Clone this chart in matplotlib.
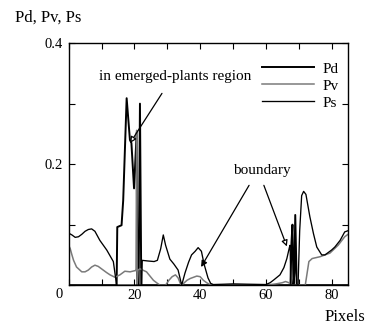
import numpy as np
import matplotlib
matplotlib.use("Agg")
import matplotlib.pyplot as plt
from matplotlib.ticker import FixedLocator, FixedFormatter, MultipleLocator

plt.rcParams['font.family'] = ['Liberation Serif', 'DejaVu Serif']

# --- values ---
pd_x = [0, 14.6, 14.8, 16.1, 16.6, 17.65, 18.65, 19.1, 19.9, 20.7, 20.9, 21.3, 21.7, 22.1,
        67.5, 67.8, 68.1, 68.4, 68.7, 68.95, 69.4, 85]
pd_y = [0, 0, 0.096, 0.099, 0.14, 0.309, 0.24, 0.235, 0.16, 0.252, 0.0, 0.0, 0.30, 0.0,
        0.0, 0.07, 0.10, 0.0, 0.02, 0.116, 0.0, 0]

pv_x = [0, 0.5, 1, 1.5, 2.4, 3, 4, 5, 6, 7, 8, 9, 10.5, 11.5, 12.6, 14.1, 15.6, 17.1, 18.7,
        20.2, 20.5, 20.7, 20.85, 21.1, 21.7, 23.7, 25.8, 27, 27.8, 29.5, 30.5, 31.5, 32.5,
        33.3, 34.2, 35, 36, 37, 38, 39, 40, 41, 42, 43, 44, 50, 60, 63, 65, 66, 67, 68, 72,
        73.1, 74.1, 76.5, 79.5, 82, 84, 85]
pv_y = [0.066, 0.06, 0.05, 0.041, 0.03, 0.027, 0.022, 0.022, 0.025, 0.03, 0.033, 0.031,
        0.025, 0.021, 0.017, 0.013, 0.017, 0.023, 0.022, 0.024, 0.024, 0.256, 0.0, 0.025,
        0.027, 0.022, 0.008, 0.003, 0.0, 0.0, 0.008, 0.014, 0.017, 0.012, 0.0, 0.003, 0.008,
        0.011, 0.013, 0.015, 0.014, 0.008, 0.004, 0.001, 0.0, 0.001, 0.0, 0.002, 0.004,
        0.006, 0.004, 0.0, 0.0, 0.039, 0.044, 0.047, 0.053, 0.066, 0.08, 0.084]

ps_x = [0, 1, 2, 3, 4, 5, 6, 7, 8, 9.5, 11.6, 13.6, 14.6, 22.2, 22.4, 24, 26, 27, 28, 28.8,
        29.5, 30.8, 32, 33.3, 34.4, 35.4, 36.5, 37.4, 38.5, 39.4, 40.4, 41.2, 42.4, 43.2, 44,
        50, 60, 61.3, 62.5, 64.3, 65.5, 66.4, 67.2, 67.4, 67.6, 69.8, 70.3, 70.9, 71.5, 72.2,
        73.4, 74.5, 75.5, 77, 78, 80, 81, 82.6, 84, 85]
ps_y = [0.086, 0.083, 0.079, 0.08, 0.084, 0.089, 0.092, 0.093, 0.089, 0.074, 0.058, 0.039,
        0.0, 0.0, 0.041, 0.04, 0.039, 0.041, 0.06, 0.083, 0.066, 0.043, 0.035, 0.025, 0.0,
        0.02, 0.038, 0.05, 0.056, 0.062, 0.056, 0.035, 0.012, 0.003, 0.001, 0.002, 0.001,
        0.004, 0.009, 0.017, 0.029, 0.044, 0.063, 0.066, 0.0, 0.0, 0.09, 0.148, 0.155, 0.15,
        0.113, 0.085, 0.063, 0.05, 0.05, 0.058, 0.063, 0.074, 0.088, 0.09]

x_ticks = [0, 20, 40, 60, 80]
x_tick_labels = ['', '20', '40', '60', '80']
y_ticks = [0, 0.2, 0.4]
y_tick_labels = ['', '0.2', '0.4']

fig = plt.figure(figsize=(3.71, 3.27), dpi=100)
ax = fig.add_axes([0.185, 0.128, 0.753, 0.740])

ax.plot(pd_x, pd_y, color='black', lw=1.4, label='Pd')
ax.plot(pv_x, pv_y, color='#7a7a7a', lw=1.1, label='Pv')
ax.plot(ps_x, ps_y, color='black', lw=0.95, label='Ps')

ax.set_xlim(0, 85)
ax.set_ylim(0, 0.4)
ax.xaxis.set_major_locator(FixedLocator(x_ticks))
ax.xaxis.set_major_formatter(FixedFormatter(x_tick_labels))
ax.xaxis.set_minor_locator(MultipleLocator(10))
ax.yaxis.set_major_locator(FixedLocator(y_ticks))
ax.yaxis.set_major_formatter(FixedFormatter(y_tick_labels))
ax.yaxis.set_minor_locator(MultipleLocator(0.1))
ax.tick_params(which='both', direction='in', top=True, right=True, length=4, width=0.8)
ax.tick_params(axis='x', labelsize=10.5, pad=3)
ax.tick_params(axis='y', labelsize=10.5, pad=4)
for s in ax.spines.values():
    s.set_linewidth(1.0)

ax.annotate('0', xy=(0, 0), xycoords='axes fraction', xytext=(-6.5, -7),
            textcoords='offset points', ha='center', va='center', fontsize=10.5)

ax.legend(loc='upper left', bbox_to_anchor=(0.692, 0.922), frameon=False, fontsize=11,
          handlelength=3.4, handletextpad=0.55, labelspacing=0.22, borderpad=0,
          borderaxespad=0)

# annotations
ax.text(32.4, 0.345, 'in emerged-plants region', ha='center', va='center', fontsize=11)
ax.annotate('', xy=(18.7, 0.235), xytext=(28.4, 0.317),
            arrowprops=dict(arrowstyle='-|>', color='black', lw=0.9, fc='white',
                            mutation_scale=9, shrinkA=0, shrinkB=0))
ax.text(58.8, 0.19, 'boundary', ha='center', va='center', fontsize=11)
ax.annotate('', xy=(40.3, 0.03), xytext=(54.9, 0.165),
            arrowprops=dict(arrowstyle='-|>', color='black', lw=0.9,
                            mutation_scale=9, shrinkA=0, shrinkB=0))
ax.annotate('', xy=(66.4, 0.064), xytext=(59.4, 0.165),
            arrowprops=dict(arrowstyle='-|>', color='black', lw=0.9, fc='white',
                            mutation_scale=9, shrinkA=0, shrinkB=0))

fig.text(15 / 371, 1 - 18 / 327, 'Pd, Pv, Ps', ha='left', va='center', fontsize=12)
fig.text(365 / 371, 1 - 317 / 327, 'Pixels', ha='right', va='center', fontsize=12)

fig.savefig('out.png', dpi=100)
